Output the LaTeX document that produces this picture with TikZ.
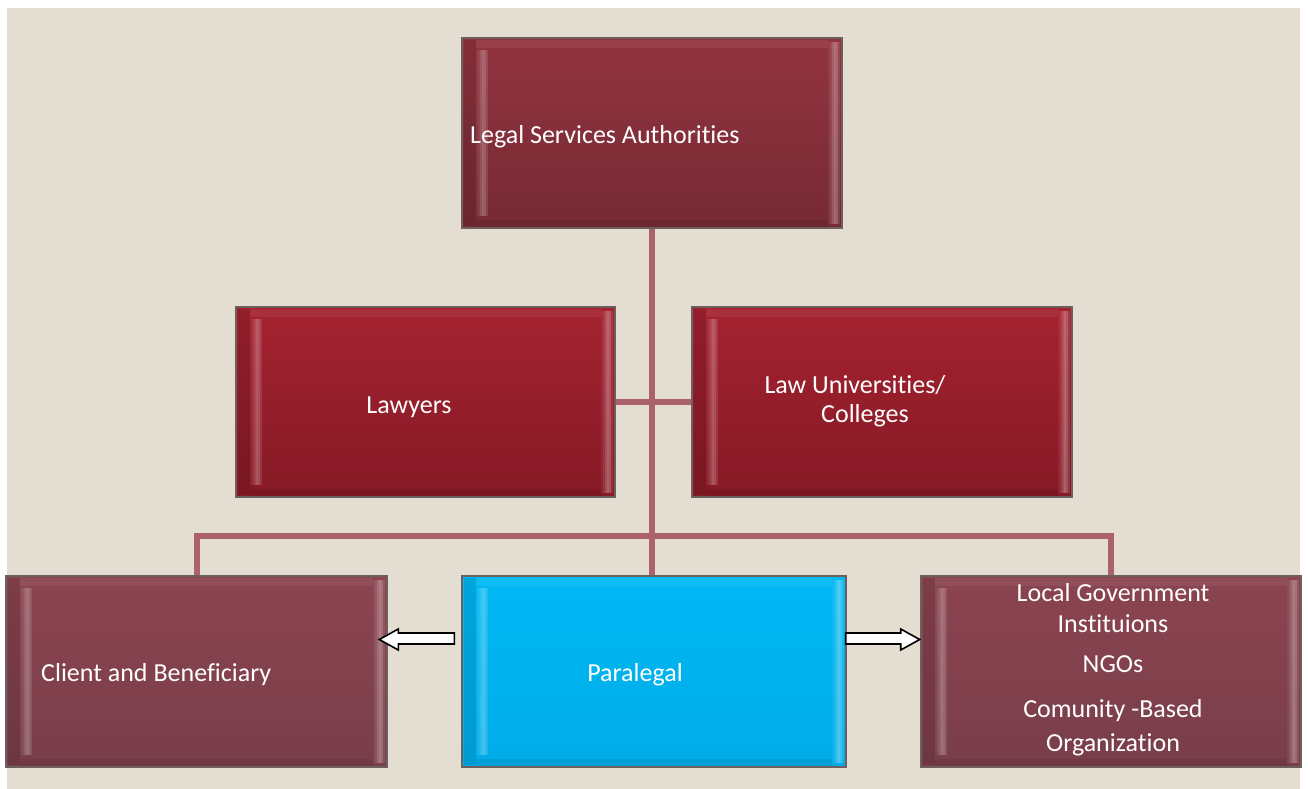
\documentclass[tikz,border=0pt]{standalone}
\usepackage{fontspec}
\setmainfont{Carlito}[Ligatures={NoCommon}]
\usetikzlibrary{calc}
\definecolor{bg}{RGB}{227,221,210}
\definecolor{lsaT}{RGB}{146,52,64}
\definecolor{lsaB}{RGB}{118,42,52}
\definecolor{redT}{RGB}{164,34,48}
\definecolor{redB}{RGB}{134,26,38}
\definecolor{mauveT}{RGB}{139,68,80}
\definecolor{mauveB}{RGB}{120,62,74}
\definecolor{cyanT}{RGB}{0,184,244}
\definecolor{cyanB}{RGB}{0,172,232}
\definecolor{link}{RGB}{172,98,106}
\definecolor{edge}{RGB}{110,95,95}
\tikzset{
  bevel/.style={rectangle, draw=edge, line width=1.4pt, inner sep=0pt,
    minimum width=380pt, minimum height=190pt,
    path picture={
      \fill[black,opacity=0.10] ([xshift=2pt,yshift=-2pt]path picture bounding box.north west) rectangle ([xshift=14pt,yshift=2pt]path picture bounding box.south west);
      \foreach \i/\o in {0/0.04,2/0.10,4/0.18,6/0.26,8/0.22,10/0.12}{
        \fill[white,opacity=\o] ([xshift=14pt+\i pt,yshift=-12pt]path picture bounding box.north west) rectangle ([xshift=16pt+\i pt,yshift=12pt]path picture bounding box.south west);
      }
      \foreach \i/\o in {0/0.05,2/0.12,4/0.22,6/0.30,8/0.24,10/0.10}{
        \fill[white,opacity=\o] ([xshift=-14pt+\i pt,yshift=-4pt]path picture bounding box.north east) rectangle ([xshift=-12pt+\i pt,yshift=4pt]path picture bounding box.south east);
      }
      \fill[white,opacity=0.06] ([xshift=14pt,yshift=-2pt]path picture bounding box.north west) rectangle ([xshift=-14pt,yshift=-10pt]path picture bounding box.north east);
      \fill[black,opacity=0.07] ([xshift=14pt,yshift=8pt]path picture bounding box.south west) rectangle ([xshift=-14pt]path picture bounding box.south east);
    }},
  lsabox/.style={bevel, top color=lsaT, bottom color=lsaB},
  redbox/.style={bevel, top color=redT, bottom color=redB},
  mauvebox/.style={bevel, top color=mauveT, bottom color=mauveB},
  cyanbox/.style={bevel, top color=cyanT, bottom color=cyanB},
  conn/.style={draw=link, line width=6pt},
  label/.style={text=white, font=\fontsize{26}{29}\selectfont, inner sep=0pt, align=center},
  blockarr/.style={draw=black, line width=1.6pt, fill=white, line join=miter},
}
\begin{document}
\begin{tikzpicture}[x=1pt,y=-1pt]
\useasboundingbox (0,0) rectangle (1308,789);
\fill[white] (0,0) rectangle (1308,789);
\fill[bg] (7,8) rectangle (1300,789);

% boxes
\node[lsabox, minimum width=380pt, minimum height=190pt] (lsa) at (652,133) {};
\node[redbox, minimum width=379pt, minimum height=190pt] (law) at (425.5,402) {};
\node[redbox, minimum width=380pt, minimum height=190pt] (uni) at (882,402) {};
\node[mauvebox, minimum width=381pt, minimum height=191pt] (cli) at (196.5,671.5) {};
\node[cyanbox, minimum width=384pt, minimum height=191pt] (para) at (654,671.5) {};
\node[mauvebox, minimum width=380pt, minimum height=191pt] (org) at (1111,671.5) {};

% connectors
\draw[conn] (lsa.south) -- (lsa.south |- para.north);
\draw[conn] (law) -- (uni);
\draw[conn] (cli.north) -- ++(0,-39) -| (org.north);

% block arrows
\draw[blockarr] ($(para.west)+(-7,-38.5)$) -- ++(-56,0) -- ++(0,-4) -- ++(-19,10.5) -- ++(19,10.5) -- ++(0,-6) -- ++(56,0) -- cycle;
\draw[blockarr] ($(para.east)+(-1,-38.5)$) -- ++(55,0) -- ++(0,-4) -- ++(19,10.5) -- ++(-19,10.5) -- ++(0,-6) -- ++(-55,0) -- cycle;

% labels
\node[label, anchor=west] (tlsa) at (470,137) {Legal Services Authorities};
\node[label] (tlaw) at (409,407) {Lawyers};
\node[label] (tuni) at (855,401) {Law Universities/\\\hspace*{20pt}Colleges};
\node[label, anchor=west] (tcli) at (41,675) {Client and Beneficiary};
\node[label] (tpara) at (635,675) {Paralegal};
\node[label, font=\fontsize{26}{31}\selectfont] (torg) at (1113,670) {Local Government\\Instituions\\[9pt]NGOs\\[14pt]Comunity -Based\\[3pt]Organization};
\end{tikzpicture}
\end{document}
